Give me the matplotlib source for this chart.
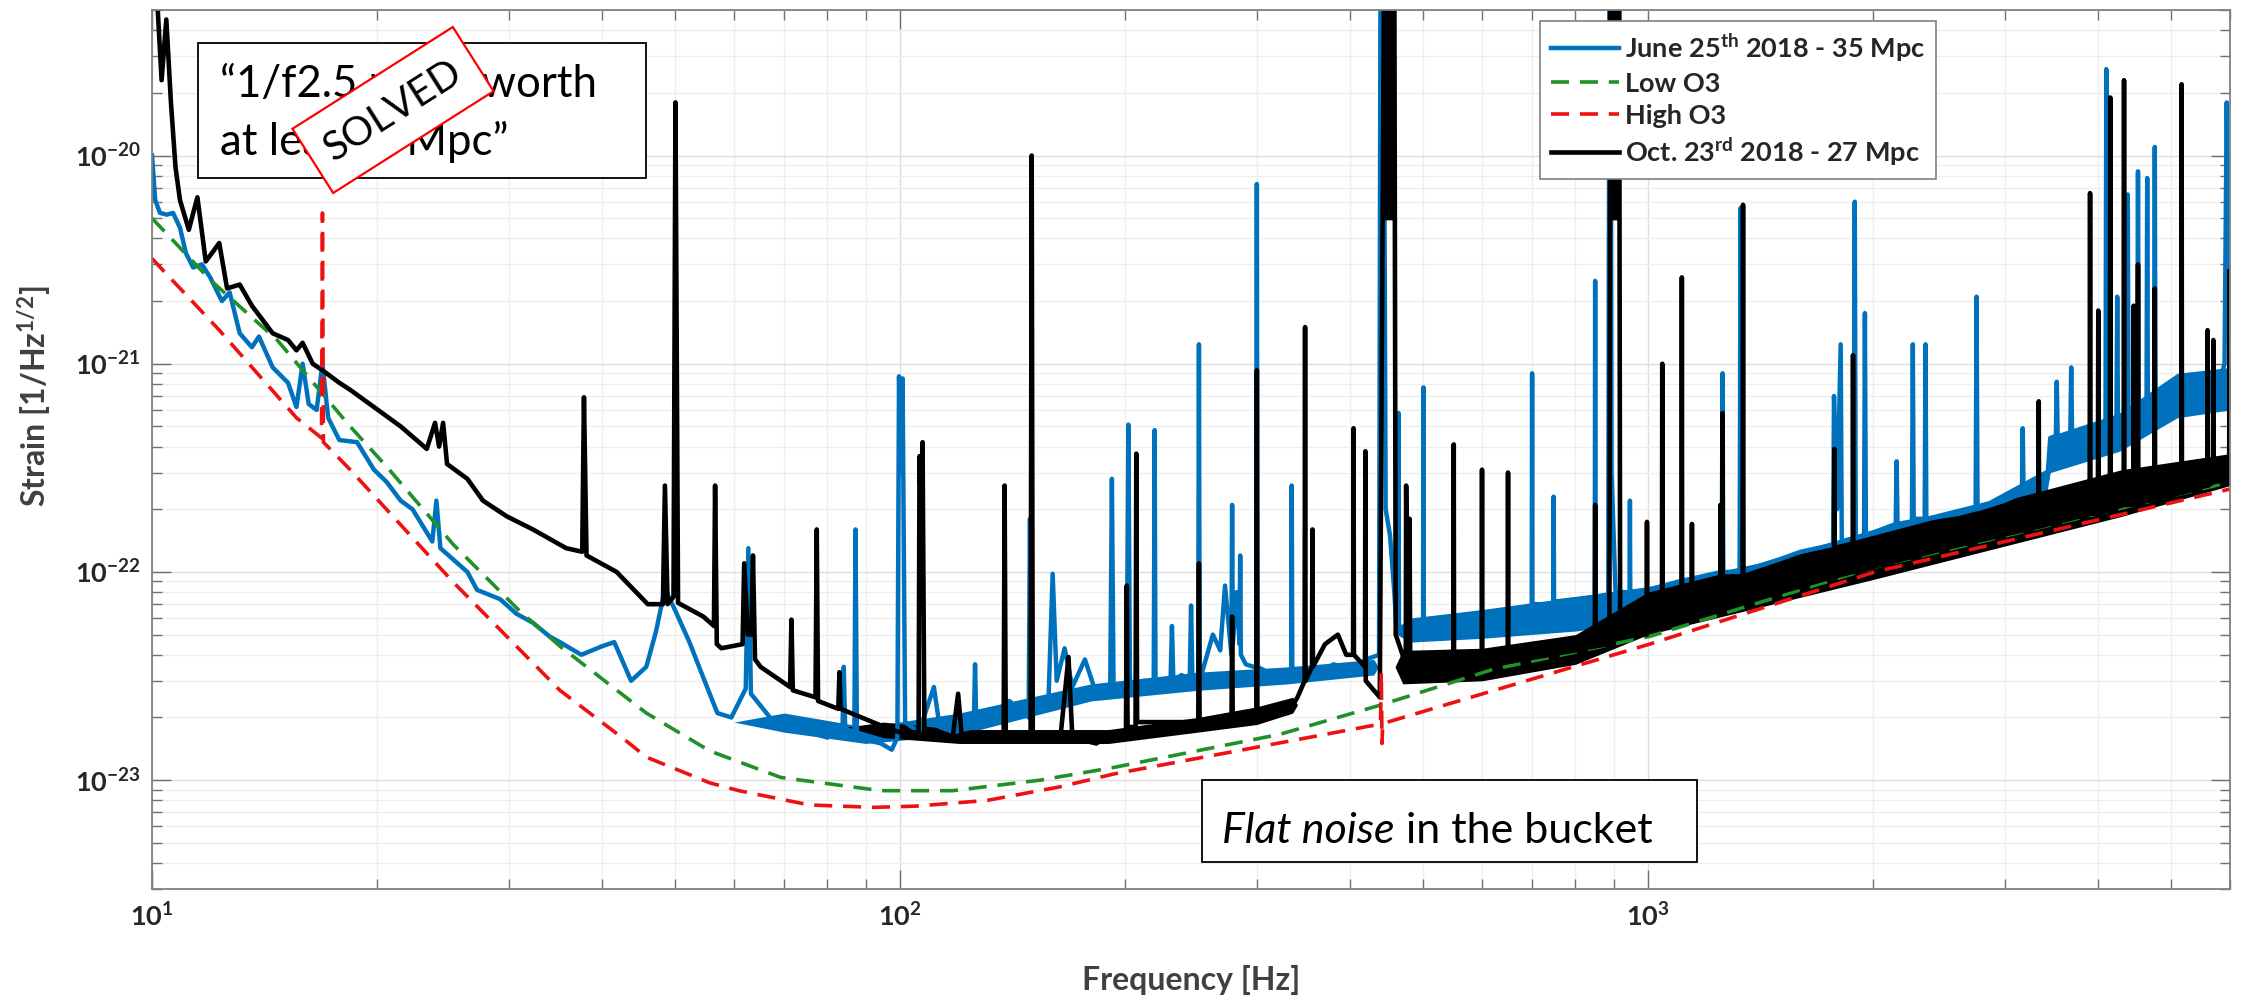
import matplotlib
matplotlib.use("Agg")
import matplotlib.pyplot as plt
from matplotlib.patches import Rectangle
from matplotlib.lines import Line2D
from matplotlib.ticker import NullFormatter, LogLocator

plt.rcParams['font.family'] = ['Lato', 'DejaVu Sans']
plt.rcParams['mathtext.fontset'] = 'custom'
plt.rcParams['mathtext.rm'] = 'Lato:bold'
plt.rcParams['mathtext.it'] = 'Lato:bold:italic'
plt.rcParams['mathtext.bf'] = 'Lato:bold'

# ---- data (frequency in Hz, strain in 1/sqrt(Hz)) ----
june_f = [10.0, 10.1, 10.25, 10.47, 10.67, 10.9, 11.1, 11.35, 11.66, 11.96, 12.4, 12.7,
          13.1, 13.6, 13.9, 14.5, 15.2, 15.6, 15.9, 16.2, 16.6, 16.9, 17.2, 17.8, 18.8,
          19.8, 20.6, 21.5, 22.3, 23.7, 24.0, 24.3, 26.4, 27.2, 29.2, 30.7, 32.3, 34.0,
          35.1, 37.5, 40.0, 41.5, 43.7, 45.8, 47.2, 48.5, 49.9, 52.3, 54.6, 57.0, 59.5,
          62.2, 62.7, 63.2, 67.8, 71.6, 75.7, 80.0, 83.8, 84.1, 84.5, 86.9, 87.2, 87.6,
          94.3, 97.5, 99.2, 99.7, 100.3, 100.8, 101.6, 106, 111, 113, 118, 125.5, 126,
          126.5, 140, 148.6, 149.2, 149.8, 158, 160, 162, 166, 170, 176.7, 183, 191, 192,
          193, 201, 202, 203, 212, 218.4, 219, 219.6, 230, 231, 232, 238, 244, 245, 246,
          250.4, 251, 251.6, 262, 268, 272, 277.4, 278, 278.6, 282, 284.4, 285, 285.6,
          290, 297, 299.4, 300, 300.6, 310, 320, 333.4, 334, 334.6, 345, 360, 380, 400,
          420, 437, 439, 441, 443, 446, 452, 458, 461, 463.4, 464, 464.6, 480, 500.4, 501,
          501.6, 550, 600, 650, 699.2, 700, 700.8, 747, 748, 749, 800, 849, 850, 851, 885,
          888, 891, 894, 905, 945, 946, 947, 1000, 1100, 1255, 1258, 1261, 1326, 1330,
          1334, 1500, 1600, 1768, 1773, 1790, 1810, 1816, 1884, 1890, 1896, 1945, 1950,
          1956, 2144, 2150, 2156, 2254, 2260, 2266, 2344, 2350, 2356, 2600, 2742, 2750,
          2758, 3000, 3162, 3170, 3178, 3420, 3450, 3510, 3520, 3530, 3670, 3680, 3690,
          4000, 4090, 4100, 4110, 4230, 4240, 4250, 4370, 4380, 4390, 4510, 4520, 4530,
          4640, 4650, 4660, 4750, 4760, 4770, 5000, 5500, 5800, 5900, 5940, 5970, 6000]
june_h = [1.0e-20, 6.1e-21, 5.3e-21, 5.2e-21, 5.3e-21, 4.5e-21, 3.4e-21, 2.9e-21, 3.0e-21,
          2.6e-21, 2.0e-21, 2.2e-21, 1.4e-21, 1.2e-21, 1.35e-21, 9.6e-22, 8.1e-22, 6.2e-22,
          1.0e-21, 6.4e-22, 6.0e-22, 1.0e-21, 5.5e-22, 4.3e-22, 4.2e-22, 3.1e-22, 2.7e-22,
          2.2e-22, 2.0e-22, 1.4e-22, 2.2e-22, 1.3e-22, 1.0e-22, 8.2e-23, 7.4e-23, 6.3e-23,
          5.7e-23, 4.9e-23, 4.6e-23, 4.0e-23, 4.4e-23, 4.6e-23, 3.0e-23, 3.5e-23, 5.2e-23,
          8.3e-23, 6.7e-23, 4.6e-23, 3.1e-23, 2.1e-23, 2.0e-23, 2.75e-23, 1.3e-22, 2.6e-23,
          1.9e-23, 1.8e-23, 1.7e-23, 1.6e-23, 1.8e-23, 3.5e-23, 1.7e-23, 1.7e-23, 1.6e-22,
          1.6e-23, 1.5e-23, 1.4e-23, 1.6e-23, 8.7e-22, 3.0e-22, 8.5e-22, 1.9e-23, 1.7e-23,
          2.8e-23, 1.8e-23, 1.7e-23, 1.8e-23, 3.6e-23, 1.8e-23, 2.4e-23, 2.0e-23, 1.8e-22,
          2.2e-23, 2.5e-23, 9.8e-23, 3.0e-23, 4.3e-23, 2.8e-23, 3.8e-23, 2.6e-23, 2.6e-23,
          2.8e-22, 2.7e-23, 2.8e-23, 5.1e-22, 2.8e-23, 3.0e-23, 2.9e-23, 4.8e-22, 2.9e-23,
          3.0e-23, 5.5e-23, 3.0e-23, 3.2e-23, 3.0e-23, 6.9e-23, 3.0e-23, 3.0e-23, 1.24e-21,
          3.0e-23, 5.0e-23, 4.2e-23, 8.6e-23, 4.0e-23, 2.1e-22, 4.5e-23, 8.0e-23, 4.5e-23,
          1.2e-22, 4.0e-23, 3.6e-23, 3.5e-23, 3.5e-23, 7.3e-21, 3.5e-23, 3.3e-23, 3.2e-23,
          3.4e-23, 2.6e-22, 3.5e-23, 3.0e-23, 3.2e-23, 3.6e-23, 3.4e-23, 3.8e-23, 4.0e-23,
          1e-19, 1e-19, 1e-19, 2.0e-22, 1.5e-22, 8.0e-23, 5.5e-23, 5.5e-23, 5.8e-22, 5.5e-23,
          5.2e-23, 5.3e-23, 7.7e-22, 5.3e-23, 5.8e-23, 6.2e-23, 6.6e-23, 6.8e-23, 9.0e-22,
          7.0e-23, 7.0e-23, 2.3e-22, 7.2e-23, 7.4e-23, 7.6e-23, 2.5e-21, 7.6e-23, 7.8e-23,
          1e-19, 1e-19, 3.0e-22, 8.0e-23, 8.0e-23, 2.2e-22, 8.0e-23, 8.2e-23, 9.0e-23,
          1.0e-22, 9.0e-22, 1.0e-22, 1.0e-22, 5.6e-21, 1.0e-22, 1.15e-22, 1.25e-22, 1.35e-22,
          7.0e-22, 2.0e-22, 1.24e-21, 1.4e-22, 1.45e-22, 6.0e-21, 1.45e-22, 1.5e-22, 1.75e-21,
          1.5e-22, 1.7e-22, 3.4e-22, 1.7e-22, 1.75e-22, 1.24e-21, 1.8e-22, 1.8e-22, 1.24e-21,
          1.8e-22, 1.9e-22, 2.0e-22, 2.1e-21, 2.0e-22, 2.2e-22, 2.4e-22, 4.9e-22, 2.4e-22,
          2.8e-22, 4.4e-22, 4.5e-22, 8.2e-22, 4.5e-22, 4.6e-22, 9.6e-22, 4.6e-22, 5.0e-22,
          5.0e-22, 2.6e-20, 5.0e-22, 5.2e-22, 2.1e-21, 5.2e-22, 5.4e-22, 6.5e-21, 5.4e-22,
          5.5e-22, 8.4e-21, 5.5e-22, 5.6e-22, 7.8e-21, 5.6e-22, 5.8e-22, 1.1e-20, 5.8e-22,
          6.5e-22, 7.5e-22, 8.0e-22, 1.0e-21, 1.8e-20, 3.0e-21, 2.0e-21]

# noisy band of the June curve (mid and high frequencies)
june_mid_f = [60, 70, 90, 120, 180, 250, 330, 430, 436]
june_mid_lo = [1.9e-23, 1.7e-23, 1.5e-23, 1.65e-23, 2.4e-23, 2.7e-23, 2.9e-23, 3.2e-23,
               3.5e-23]
june_mid_hi = [1.9e-23, 2.1e-23, 1.8e-23, 2.1e-23, 2.9e-23, 3.3e-23, 3.5e-23, 3.8e-23,
               3.5e-23]
june_band_f = [462, 480, 600, 800, 1000, 1400, 2000, 2850, 3400, 3450, 4270, 5100, 6000]
june_band_lo = [5.0e-23, 4.6e-23, 4.8e-23, 5.2e-23, 5.8e-23, 7.6e-23, 1.1e-22, 1.6e-22,
                2.2e-22, 3.0e-22, 3.8e-22, 5.5e-22, 6.0e-22]
june_band_hi = [5.4e-23, 6.0e-23, 6.6e-23, 7.6e-23, 8.5e-23, 1.1e-22, 1.6e-22, 2.2e-22,
                3.1e-22, 4.5e-22, 5.8e-22, 9.0e-22, 9.6e-22]

oct_f = [10.0, 10.15, 10.3, 10.45, 10.6, 10.75, 10.9, 11.2, 11.5, 11.8, 12.3, 12.6, 13.1,
         13.6, 14.5, 15.2, 15.6, 15.9, 16.4, 16.9, 17.8, 18.4, 19.8, 21.5, 23.3, 23.9, 24.2,
         24.5, 24.8, 26.4, 27.7, 29.8, 32.3, 35.8, 37.6, 37.8, 38.1, 41.8, 46.0, 48.2, 48.5,
         48.9, 49.8, 50.1, 50.5, 54.6, 56.4, 56.6, 56.9, 57.7, 61.6, 61.9, 62.6, 63.3, 63.6,
         64.0, 65.1, 71.3, 71.6, 71.9, 77.1, 77.4, 77.7, 82.7, 83.0, 83.3, 94.3, 99.7, 105.9,
         106.2, 106.7, 107.2, 107.8, 117.6, 119.6, 121, 137.6, 138, 138.5, 149.5, 150, 150.5,
         164, 168, 170, 183, 191, 200.5, 201, 201.5, 206.5, 207, 207.5, 230, 250.5, 251,
         251.5, 277.5, 278, 278.5, 299.5, 300, 300.5, 320, 330, 340, 347.5, 348, 348.5,
         355.5, 356, 356.5, 370, 385, 395, 403.5, 404, 404.5, 418.5, 419, 419.5, 438, 444,
         445.5, 447, 448.5, 450, 451.5, 453, 454.5, 456, 458, 460, 474.5, 475, 477, 480, 481,
         549.5, 550, 550.5, 599.5, 600, 600.5, 649.5, 650, 650.5, 800, 849, 850, 851, 888,
         891, 894, 897, 900, 903, 906, 909, 912, 915, 918, 996, 997, 998, 1044, 1045, 1046,
         1109, 1110, 1111, 1144, 1145, 1146, 1249, 1250, 1251, 1257, 1258, 1259, 1338, 1340,
         1342, 1500, 1773, 1775, 1777, 1878, 1880, 1882, 2500, 3326, 3330, 3334, 3895, 3900,
         3905, 3995, 4000, 4005, 4145, 4150, 4155, 4325, 4330, 4335, 4455, 4460, 4465, 4515,
         4520, 4525, 4755, 4760, 4765, 5165, 5170, 5175, 5595, 5600, 5605, 5695, 5700, 5705,
         5985, 5990, 6000]
oct_h = [8e-20, 6e-20, 2.3e-20, 4.5e-20, 1.8e-20, 8.8e-21, 6.1e-21, 4.4e-21, 6.3e-21, 3.1e-21,
         3.8e-21, 2.3e-21, 2.4e-21, 1.9e-21, 1.4e-21, 1.3e-21, 1.16e-21, 1.26e-21, 1.0e-21,
         9.3e-22, 8.1e-22, 7.5e-22, 6.2e-22, 5.0e-22, 3.9e-22, 5.2e-22, 4.0e-22, 5.2e-22,
         3.3e-22, 2.8e-22, 2.2e-22, 1.85e-22, 1.6e-22, 1.3e-22, 1.25e-22, 6.9e-22, 1.2e-22,
         1.0e-22, 7.0e-23, 7.0e-23, 2.6e-22, 7.0e-23, 7.6e-23, 1.8e-20, 7.1e-23, 6.1e-23,
         5.5e-23, 2.6e-22, 4.5e-23, 4.3e-23, 4.5e-23, 1.1e-22, 5.0e-23, 5.0e-23, 1.2e-22,
         3.8e-23, 3.5e-23, 2.8e-23, 5.9e-23, 2.7e-23, 2.5e-23, 1.6e-22, 2.4e-23, 2.2e-23,
         3.3e-23, 2.2e-23, 1.83e-23, 1.7e-23, 1.7e-23, 3.6e-22, 1.8e-22, 4.2e-22, 1.7e-23,
         1.6e-23, 2.6e-23, 1.6e-23, 1.65e-23, 2.6e-22, 1.6e-23, 1.65e-23, 1.0e-20, 1.65e-23,
         1.65e-23, 3.9e-23, 1.6e-23, 1.5e-23, 1.65e-23, 1.7e-23, 8.6e-23, 1.8e-23, 1.8e-23,
         3.7e-22, 1.9e-23, 1.9e-23, 1.9e-23, 1.1e-22, 1.9e-23, 2.0e-23, 6.1e-23, 2.0e-23,
         2.1e-23, 9.3e-22, 2.1e-23, 2.2e-23, 2.1e-23, 2.5e-23, 3.0e-23, 1.5e-21, 3.0e-23,
         3.5e-23, 1.6e-22, 3.5e-23, 4.5e-23, 5.0e-23, 4.0e-23, 4.0e-23, 4.9e-22, 4.0e-23,
         3.5e-23, 3.8e-22, 3.0e-23, 2.5e-23, 1e-19, 5e-21, 1e-19, 5e-21, 1e-19, 5e-21, 1e-19,
         5e-21, 1e-19, 1e-19, 5e-23, 3.6e-23, 2.6e-22, 5.0e-23, 1.8e-22, 3.5e-23, 3.4e-23,
         4.1e-22, 3.4e-23, 3.5e-23, 3.1e-22, 3.5e-23, 3.7e-23, 3.0e-22, 3.7e-23, 4.2e-23,
         4.4e-23, 2.1e-22, 4.4e-23, 4.5e-23, 1e-19, 5e-21, 1e-19, 5e-21, 1e-19, 5e-21, 1e-19,
         5e-21, 1e-19, 5e-23, 5.0e-23, 1.74e-22, 5.5e-23, 5.5e-23, 1.0e-21, 5.7e-23, 6.0e-23,
         2.6e-21, 6.0e-23, 6.2e-23, 1.7e-22, 6.2e-23, 6.8e-23, 2.1e-22, 6.8e-23, 6.8e-23,
         5.8e-22, 6.8e-23, 7.2e-23, 5.8e-21, 7.2e-23, 8.0e-23, 9.5e-23, 3.9e-22, 9.5e-23,
         1.0e-22, 1.1e-21, 1.0e-22, 1.3e-22, 1.65e-22, 6.6e-22, 1.65e-22, 1.9e-22, 6.6e-21,
         1.9e-22, 1.9e-22, 1.8e-21, 1.9e-22, 2.0e-22, 1.9e-20, 2.0e-22, 2.1e-22, 2.3e-20,
         2.1e-22, 2.1e-22, 1.9e-21, 2.1e-22, 2.1e-22, 3.0e-21, 2.2e-22, 2.2e-22, 2.3e-21,
         2.2e-22, 2.4e-22, 2.2e-20, 2.4e-22, 2.6e-22, 1.45e-21, 2.6e-22, 2.7e-22, 1.3e-21,
         2.7e-22, 2.8e-22, 2.8e-21, 3.0e-22]

oct_mid_f = [85, 95, 120, 190, 250, 300, 335, 340]
oct_mid_lo = [1.8e-23, 1.6e-23, 1.5e-23, 1.5e-23, 1.7e-23, 1.85e-23, 2.1e-23, 2.3e-23]
oct_mid_hi = [1.8e-23, 1.9e-23, 1.75e-23, 1.75e-23, 2.0e-23, 2.25e-23, 2.5e-23, 2.3e-23]
oct_band_f = [459, 470, 600, 800, 1000, 2000, 4300, 6000]
oct_band_lo = [3.5e-23, 2.9e-23, 3.0e-23, 3.6e-23, 5.0e-23, 9.2e-23, 1.85e-22, 2.6e-22]
oct_band_hi = [3.5e-23, 4.2e-23, 4.3e-23, 5.0e-23, 8.0e-23, 1.5e-22, 3.1e-22, 3.7e-22]

low_f = [10, 12, 14.7, 18.4, 20.6, 25.3, 31, 35.1, 45.8, 55.7, 69.3, 94.3, 117.6, 154,
         193, 322, 440, 620, 1005, 2000, 6000]
low_h = [5.0e-21, 2.5e-21, 1.3e-21, 5.0e-22, 3.2e-22, 1.35e-22, 6.5e-23, 4.4e-23, 2.1e-23,
         1.38e-23, 1.03e-23, 8.9e-24, 8.9e-24, 1.0e-23, 1.15e-23, 1.66e-23, 2.3e-23,
         3.4e-23, 4.9e-23, 1.05e-22, 2.7e-22]

high_f = [10, 12.3, 15.6, 16.85, 16.9, 16.95, 18.4, 25.3, 35.1, 42.7, 45.8, 55.7, 60.9,
          75.7, 92.2, 105, 131, 164, 193, 439, 440, 441, 442, 1005, 2010, 6000]
high_h = [3.2e-21, 1.45e-21, 5.5e-22, 4.4e-22, 5.3e-21, 4.2e-22, 3.1e-22, 8.9e-23, 2.7e-23,
          1.58e-23, 1.29e-23, 9.7e-24, 8.9e-24, 7.6e-24, 7.4e-24, 7.5e-24, 8.0e-24, 9.3e-24,
          1.07e-23, 1.86e-23, 3.3e-23, 1.5e-23, 1.87e-23, 4.5e-23, 1.0e-22, 2.5e-22]

labels = [r'June 25$^{\mathrm{th}}$ 2018 - 35 Mpc', 'Low O3', 'High O3',
          r'Oct. 23$^{\mathrm{rd}}$ 2018 - 27 Mpc']
x_ticks = [10, 100, 1000]
x_ticklabels = [r'$10^{1}$', r'$10^{2}$', r'$10^{3}$']
y_ticks = [1e-23, 1e-22, 1e-21, 1e-20]
y_ticklabels = [r'$10^{-23}$', r'$10^{-22}$', r'$10^{-21}$', r'$10^{-20}$']

blue = '#0072BD'
green = '#1f9128'
red = '#ee1111'

W, H = 2241, 998
fig = plt.figure(figsize=(W / 100, H / 100), dpi=100)
ax = fig.add_axes([152 / W, 109 / H, 2078 / W, 879 / H])

ax.fill_between(june_mid_f, june_mid_lo, june_mid_hi, color=blue, lw=0)
ax.fill_between(june_band_f, june_band_lo, june_band_hi, color=blue, lw=0)
ax.plot(june_f, june_h, color=blue, lw=3.2)
ax.plot(low_f, low_h, color=green, lw=2.6, ls=(0, (5, 3)))
ax.fill_between(oct_mid_f, oct_mid_lo, oct_mid_hi, color='black', lw=0)
ax.fill_between(oct_band_f, oct_band_lo, oct_band_hi, color='black', lw=0)
ax.plot(oct_f, oct_h, color='black', lw=3.3)
ax.plot(high_f, high_h, color=red, lw=2.6, ls=(0, (5, 3)))

ax.set_xscale('log')
ax.set_yscale('log')
ax.set_xlim(10, 6000)
ax.set_ylim(3e-24, 5e-20)

ax.set_xticks(x_ticks)
ax.set_xticklabels(x_ticklabels)
ax.set_yticks(y_ticks)
ax.set_yticklabels(y_ticklabels)
ax.xaxis.set_minor_locator(LogLocator(base=10, subs=range(2, 10), numticks=20))
ax.yaxis.set_minor_locator(LogLocator(base=10, subs=range(2, 10), numticks=20))
ax.xaxis.set_minor_formatter(NullFormatter())
ax.yaxis.set_minor_formatter(NullFormatter())
ax.tick_params(which='both', direction='in', top=True, right=True, color='#707070', width=1.0)
ax.tick_params(which='major', length=14, labelsize=19.5, labelcolor='#262626')
ax.tick_params(which='minor', length=7)
ax.tick_params(axis='x', which='major', pad=10)
ax.tick_params(axis='y', which='major', pad=8)

ax.grid(True, which='major', color='#dedede', lw=1.0)
ax.grid(True, which='minor', color='#eeeeee', lw=0.9)
ax.set_axisbelow(True)
for s in ax.spines.values():
    s.set_color('#808080')
    s.set_linewidth(1.3)

ax.set_xlabel('Frequency [Hz]', fontsize=23, fontweight='bold', color='#404040')
ax.xaxis.set_label_coords(0.5, -0.1035)
ax.xaxis.label.set_va('center')
ax.set_ylabel(r'Strain [1/Hz$^{1/2}$]', fontsize=23, fontweight='bold', color='#404040')
ax.yaxis.set_label_coords(-0.0563, 0.561)
ax.yaxis.label.set_va('center')

handles = [Line2D([], [], color=blue, lw=3.2),
           Line2D([], [], color=green, lw=2.6, ls=(0, (5, 3))),
           Line2D([], [], color=red, lw=2.6, ls=(0, (5, 3))),
           Line2D([], [], color='black', lw=3.3)]
leg = ax.legend(handles, labels, loc='upper left', bbox_to_anchor=(1540 / W, 1 - 21 / H),
                bbox_transform=fig.transFigure, borderaxespad=0, fancybox=False,
                edgecolor='#808080', framealpha=1, prop={'weight': 'bold', 'size': 19.5},
                handlelength=2.5, handletextpad=0.25, borderpad=0.4, labelspacing=0.3)
leg.get_frame().set_linewidth(1.2)
for t in leg.get_texts():
    t.set_color('#262626')

# annotation layer in pixel coordinates
ov = fig.add_axes([0, 0, 1, 1], facecolor='none')
ov.set_xlim(0, W)
ov.set_ylim(H, 0)
ov.axis('off')

ov.add_patch(Rectangle((198, 43), 448, 135, fc='white', ec='black', lw=1.3, zorder=1))
ov.text(220, 97, '\u201c1/f2.5 noise worth', fontsize=31.5, va='baseline', color='black',
        zorder=2)
ov.text(220, 155, 'at least 5 Mpc\u201d', fontsize=31.5, va='baseline', color='black',
        zorder=2)
ov.add_patch(Rectangle((393 - 95, 110 - 38), 190, 76, angle=-32.4, rotation_point='center',
                       fc='white', ec='red', lw=1.6, zorder=4))
ov.text(393, 111, 'SOLVED', fontsize=29, rotation=32.4, ha='center', va='center',
        rotation_mode='anchor', color='black', zorder=5)

ov.add_patch(Rectangle((1202, 780), 495, 82, fc='white', ec='black', lw=1.3, zorder=1))
t1 = ov.text(1222, 843, 'Flat noise', fontsize=31, style='italic', va='baseline',
             color='black', zorder=2)
ov.annotate(' in the bucket', xy=(1, 0), xycoords=t1, fontsize=31, va='bottom', ha='left',
            color='black', zorder=2)

fig.savefig('out.png', dpi=100)
